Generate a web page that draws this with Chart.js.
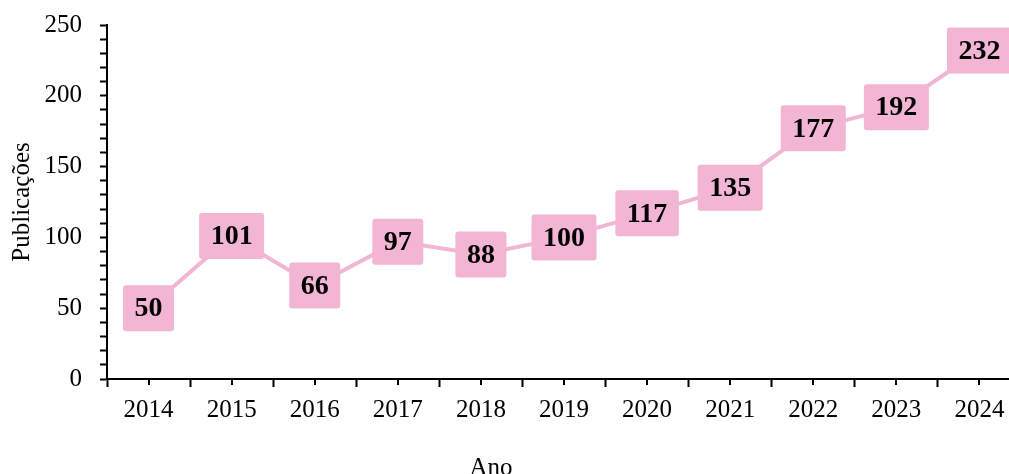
<!DOCTYPE html>
<html>
<head>
<meta charset="utf-8">
<script src="https://cdn.jsdelivr.net/npm/chart.js@4.4.1/dist/chart.umd.min.js"></script>
<style>
  html, body { margin: 0; padding: 0; background: #fff; overflow: hidden; }
  #wrap { width: 1031px; height: 474px; position: relative; }
</style>
</head>
<body>
<div id="wrap"><canvas id="pubChart"></canvas></div>
<script>
/* Publicações por ano */
const anos = ['2014', '2015', '2016', '2017', '2018', '2019', '2020', '2021', '2022', '2023', '2024'];
const publicacoes = [50, 101, 66, 97, 88, 100, 117, 135, 177, 192, 232];
const yMin = 0;
const yMax = 250;
const yStep = 10;
const yLabelEvery = 50;

const pink = '#f2b5d3';
const serif = "'Liberation Serif', 'Times New Roman', serif";

// ── label boxes on each point ─────────────────────────────────────
const boxLabels = {
  id: 'boxLabels',
  afterDatasetsDraw(chart) {
    const ctx = chart.ctx;
    const meta = chart.getDatasetMeta(0);
    ctx.save();
    ctx.font = 'bold 28px ' + serif;
    ctx.textAlign = 'center';
    ctx.textBaseline = 'middle';
    meta.data.forEach((pt, i) => {
      const txt = String(chart.data.datasets[0].data[i]);
      const w = ctx.measureText(txt).width + 23;
      const h = 46;
      ctx.fillStyle = pink;
      ctx.beginPath();
      ctx.roundRect(pt.x - w / 2, pt.y - h / 2, w, h, 3);
      ctx.fill();
      ctx.fillStyle = '#000';
      ctx.fillText(txt, pt.x, pt.y + 1);
    });
    ctx.restore();
  }
};

// ── small ticks at category centres + x title ────────────────────
const xExtras = {
  id: 'xExtras',
  afterDraw(chart) {
    const ctx = chart.ctx;
    const xs = chart.scales.x;
    const yb = chart.chartArea.bottom;
    ctx.save();
    ctx.strokeStyle = '#000';
    ctx.lineWidth = 2;
    anos.forEach((a, i) => {
      const px = Math.round(xs.getPixelForValue(i));
      ctx.beginPath();
      ctx.moveTo(px, yb);
      ctx.lineTo(px, yb + 6);
      ctx.stroke();
    });
    ctx.fillStyle = '#000';
    ctx.font = '25px ' + serif;
    ctx.textAlign = 'center';
    ctx.textBaseline = 'middle';
    ctx.fillText('Ano', 491, 468);
    ctx.restore();
  }
};

new Chart(document.getElementById('pubChart'), {
  type: 'line',
  data: {
    labels: anos,
    datasets: [{
      data: publicacoes,
      borderColor: pink,
      borderWidth: 4,
      pointRadius: 0,
      tension: 0,
      clip: false,
    }],
  },
  options: {
    responsive: true,
    maintainAspectRatio: false,
    animation: false,
    layout: { padding: { top: 25, right: 10, left: 0, bottom: 0 } },
    plugins: { legend: { display: false }, tooltip: { enabled: false } },
    scales: {
      x: {
        offset: true,
        afterFit: (s) => { s.height = 95; s.paddingLeft = 0; s.paddingRight = 0; },
        border: { color: '#000', width: 2 },
        grid: { offset: true, drawOnChartArea: false, drawTicks: true, tickLength: 8, tickColor: '#000', tickWidth: 2 },
        ticks: { color: '#000', font: { family: serif, size: 25 }, padding: 8, maxRotation: 0, autoSkip: false },
      },
      y: {
        min: yMin,
        max: yMax,
        afterFit: (s) => { s.width = 107; s.paddingTop = 0; s.paddingBottom = 0; },
        border: { color: '#000', width: 2 },
        grid: { drawOnChartArea: false, drawTicks: true, tickLength: 7, tickColor: '#000', tickWidth: 2 },
        ticks: {
          stepSize: yStep,
          maxTicksLimit: 40,
          autoSkip: false,
          color: '#000',
          padding: 18,
          font: { family: serif, size: 25 },
          callback: (v) => (v % yLabelEvery === 0 ? v : ''),
        },
        title: {
          display: true,
          text: 'Publicações',
          color: '#000',
          font: { family: serif, size: 25 },
          padding: { top: 7, bottom: 0 },
        },
      },
    },
  },
  plugins: [boxLabels, xExtras],
});
</script>
</body>
</html>
